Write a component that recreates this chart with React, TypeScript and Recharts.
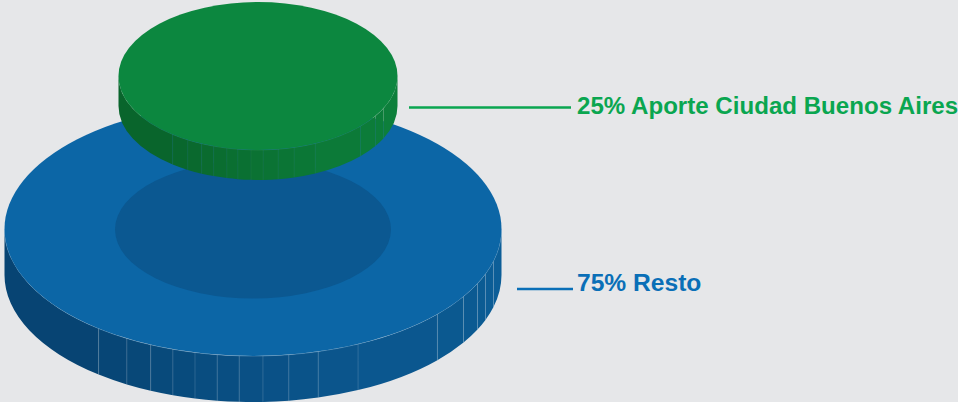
import React from 'react';
import { PieChart, Pie, Cell } from 'recharts';

// top faces of the two discs
const restoData = [{ name: 'Resto', value: 75 }];
const aporteData = [{ name: 'Aporte Ciudad Buenos Aires', value: 25 }];

// side wall facets, widths in degrees
const restoFacets = [51.6, 7.9, 6.2, 5.5, 5.3, 5.2, 5.1, 5.5, 6, 6.9, 9.8, 22.9, 10, 6.7, 4.7, 6.1, 14.6];
const aporteFacets = [52.3, 7.5, 6.4, 5.3, 5.6, 4.6, 5.4, 5, 6.2, 6.7, 9.2, 23, 10.1, 6.7, 26];

const restoWallColors = [
  '#074473', '#074676', '#084878', '#084a7b', '#084b7d', '#094d80', '#094e82', '#0a5085', '#0a5187',
  '#0a5389', '#0b558c', '#0b578f', '#0b5990', '#0b5a92', '#0b5b93', '#0c5d96', '#0c5e98',
];
const aporteWallColors = [
  '#09652c', '#09672d', '#0a692e', '#0a6b2f', '#0a6d30', '#0a6f31', '#0a7032', '#0b7233',
  '#0b7334', '#0b7535', '#0b7736', '#0c7a38', '#0c7c39', '#0c7d3a', '#0d7f3b',
];

const BACKGROUND = '#e6e7e9';
const BLUE_TOP = '#0c66a6';
const BLUE_SHADOW = '#0b5891';
const GREEN_TOP = '#0c873f';
const BLUE_TEXT = '#0a6fb7';
const GREEN_TEXT = '#0aa650';

const point = (cx: number, cy: number, r: number, squash: number, angle: number) => {
  const rad = (angle * Math.PI) / 180;
  return { x: cx + r * Math.cos(rad), y: cy - r * squash * Math.sin(rad) };
};

// flattened top face
const topFace = (squash: number) => (props: any) => (
  <ellipse cx={props.cx} cy={props.cy} rx={props.outerRadius} ry={props.outerRadius * squash} fill={props.fill} />
);

// one facet of the extruded side wall
const wallFacet = (squash: number, depth: number, rim: string, rimOpacity: number, edgeOpacity: number) => (props: any) => {
  const { cx, cy, outerRadius: r, startAngle, endAngle, fill } = props;
  const ry = r * squash;
  const a = point(cx, cy, r, squash, startAngle);
  const b = point(cx, cy, r, squash, endAngle);
  const d = `M${a.x} ${a.y}A${r} ${ry} 0 0 0 ${b.x} ${b.y}L${b.x} ${b.y + depth}A${r} ${ry} 0 0 1 ${a.x} ${a.y + depth}Z`;
  return (
    <g>
      <path d={d} fill={fill} />
      <path d={`M${a.x} ${a.y}L${a.x} ${a.y + depth}`} stroke="#ffffff" strokeOpacity={startAngle > 200 ? edgeOpacity : 0} strokeWidth={0.7} />
      <path d={`M${a.x} ${a.y}A${r} ${ry} 0 0 0 ${b.x} ${b.y}`} fill="none" stroke={rim} strokeOpacity={rimOpacity} strokeWidth={0.8} />
    </g>
  );
};

const facetRows = (facets: number[]) => facets.map((value, i) => ({ name: `facet-${i}`, value }));

export default function App() {
  return (
    <div style={{ position: 'absolute', left: 0, top: 0, width: 958, height: 402, background: BACKGROUND, overflow: 'hidden' }}>
      <PieChart width={958} height={402} margin={{ top: 0, right: 0, bottom: 0, left: 0 }}>
        <Pie
          data={facetRows(restoFacets)}
          dataKey="value"
          cx={253}
          cy={229}
          innerRadius={0}
          outerRadius={248.5}
          startAngle={180}
          endAngle={360}
          stroke="none"
          isAnimationActive={false}
          shape={wallFacet(0.511, 46, '#9cc3e0', 0.5, 0.2)}
        >
          {restoWallColors.map((c, i) => (
            <Cell key={i} fill={c} />
          ))}
        </Pie>
        <Pie
          data={restoData}
          dataKey="value"
          cx={253}
          cy={229}
          outerRadius={248.5}
          startAngle={0}
          endAngle={360}
          fill={BLUE_TOP}
          stroke="none"
          isAnimationActive={false}
          shape={topFace(0.511)}
        />
        <Pie
          data={restoData}
          dataKey="value"
          cx={253}
          cy={229.5}
          outerRadius={138}
          startAngle={0}
          endAngle={360}
          fill={BLUE_SHADOW}
          stroke="none"
          isAnimationActive={false}
          shape={topFace(0.5)}
        />
        <Pie
          data={facetRows(aporteFacets)}
          dataKey="value"
          cx={258}
          cy={76}
          outerRadius={139.5}
          startAngle={180}
          endAngle={360}
          stroke="none"
          isAnimationActive={false}
          shape={wallFacet(0.53, 30, '#8fc9a4', 0.2, 0.07)}
        >
          {aporteWallColors.map((c, i) => (
            <Cell key={i} fill={c} />
          ))}
        </Pie>
        <Pie
          data={aporteData}
          dataKey="value"
          cx={258}
          cy={76}
          outerRadius={139.5}
          startAngle={0}
          endAngle={360}
          fill={GREEN_TOP}
          stroke="none"
          isAnimationActive={false}
          shape={topFace(0.53)}
        />
        <line x1={409} y1={107.5} x2={571} y2={107.5} stroke={GREEN_TEXT} strokeWidth={2.5} />
        <text x={577} y={114} fill={GREEN_TEXT} fontFamily="Liberation Sans" fontWeight={700} fontSize={24.1}>
          {`${aporteData[0].value}% ${aporteData[0].name}`}
        </text>
        <line x1={517} y1={289} x2={573} y2={289} stroke={BLUE_TEXT} strokeWidth={2.5} />
        <text x={577} y={291} fill={BLUE_TEXT} fontFamily="Liberation Sans" fontWeight={700} fontSize={24.6}>
          {`${restoData[0].value}% ${restoData[0].name}`}
        </text>
      </PieChart>
    </div>
  );
}
